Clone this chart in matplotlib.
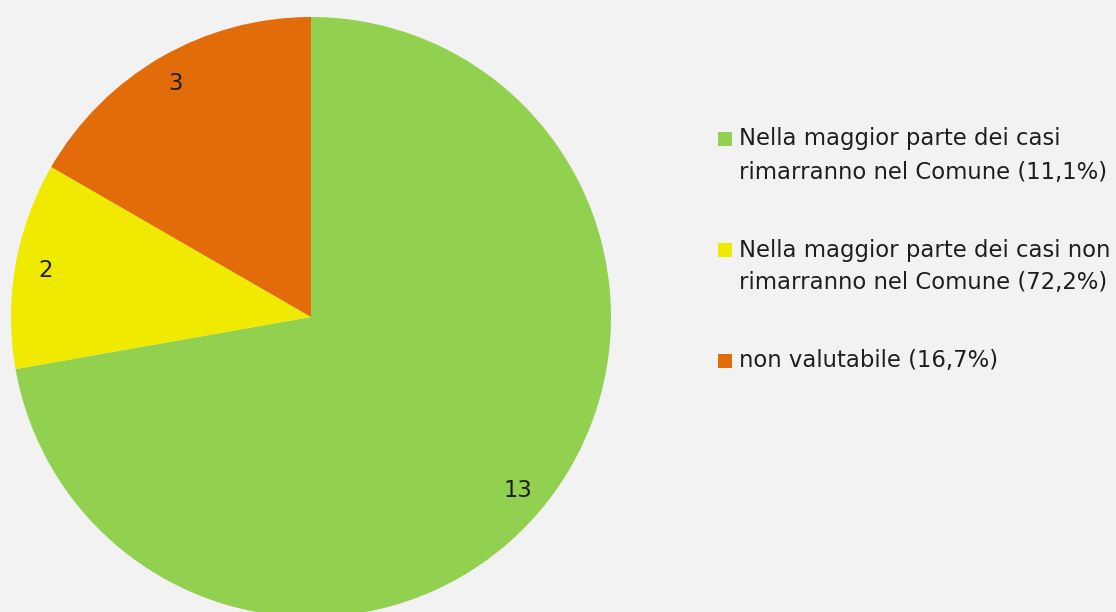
import matplotlib.pyplot as plt
from matplotlib.patches import Rectangle

# data
counts = [13, 2, 3]
legend_labels = [
    "Nella maggior parte dei casi\nrimarranno nel Comune (11,1%)",
    "Nella maggior parte dei casi non\nrimarranno nel Comune (72,2%)",
    "non valutabile (16,7%)",
]
colors = ["#92d050", "#f0e900", "#e36c0a"]

plt.rcParams['font.family'] = ['DejaVu Sans']
bg = "#f2f2f2"
txt_col = "#1e1e1e"
fs = 16.4

W, H = 1116, 612
fig = plt.figure(figsize=(W / 100, H / 100), dpi=100, facecolor=bg)

# pie centred at (311, 317) px with radius 300 px
cx, cy, r = 311, 317, 300
ax = fig.add_axes([(cx - r) / W, (H - cy - r) / H, 2 * r / W, 2 * r / H])
ax.set_facecolor(bg)

total = sum(counts)
wedges, texts, autotexts = ax.pie(
    counts, colors=colors, startangle=90, counterclock=False,
    autopct=lambda p: "%d" % round(p * total / 100.0),
    pctdistance=0.9, wedgeprops=dict(linewidth=0),
    textprops=dict(fontsize=fs, color=txt_col))
ax.set_xlim(-1, 1)
ax.set_ylim(-1, 1)
ax.set_aspect('equal')

# legend drawn by hand so the square lines up with the first text line
y0 = 139
step = 111
for i, (lab, col) in enumerate(zip(legend_labels, colors)):
    y = y0 + i * step
    fig.patches.append(Rectangle((718 / W, (H - y - 7) / H), 14 / W, 14 / H,
                                 transform=fig.transFigure, facecolor=col,
                                 edgecolor='none'))
    for j, line in enumerate(lab.split("\n")):
        fig.text(739 / W, (H - y - j * 33) / H, line, fontsize=fs,
                 color=txt_col, va='center', ha='left')

fig.savefig("out.png", dpi=100, facecolor=bg)
